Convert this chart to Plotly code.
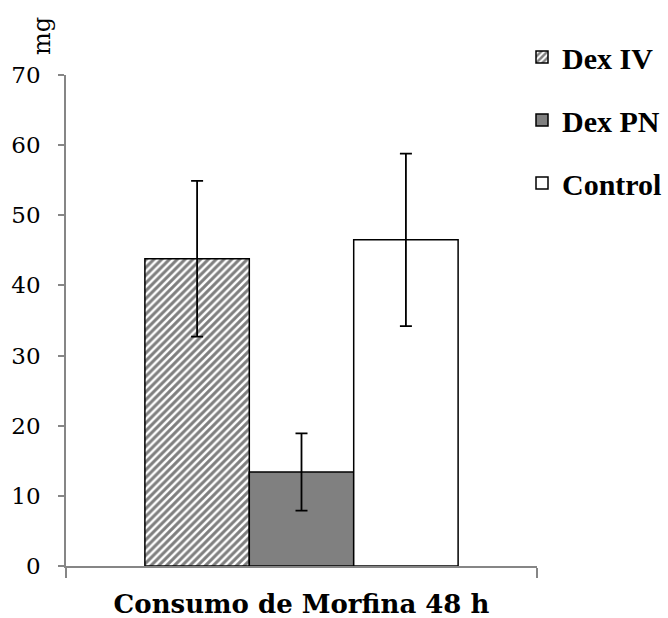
import plotly.graph_objects as go

# Morphine consumption over 48 h, mean ± error (mg)
category = ["Consumo de Morfina 48 h"]
groups = ["Dex IV", "Dex PN", "Control"]
means = [43.8, 13.4, 46.5]
errors = [11.1, 5.5, 12.3]

fills = ["white", "#808080", "white"]
patterns = [dict(shape="/", fgcolor="black", bgcolor="white", size=5.5, solidity=0.55),
            dict(shape=""), dict(shape="")]

fig = go.Figure()
for name, m, e, fc, pat in zip(groups, means, errors, fills, patterns):
    fig.add_trace(go.Bar(
        x=category, y=[m], name=name, legendgroup=name,
        marker=dict(color=fc, line=dict(color="black", width=1.5), pattern=pat),
        error_y=dict(type="data", array=[e], color="black", thickness=1.8, width=6),
    ))

serif = "DejaVu Serif"
fig.update_layout(
    width=668, height=618,
    margin=dict(l=66, r=131, t=75, b=52, autoexpand=False),
    paper_bgcolor="white", plot_bgcolor="white",
    barmode="group", bargap=0.335, bargroupgap=0,
    font=dict(family=serif, color="black"),
    legend=dict(xref="container", yref="container",
                x=522 / 668, xanchor="left", y=1 - 31 / 618, yanchor="top",
                font=dict(family="Liberation Serif", size=30, weight="bold"),
                traceorder="grouped", tracegroupgap=21,
                itemwidth=30, bgcolor="rgba(0,0,0,0)"),
    xaxis=dict(showline=True, linecolor="#868686", linewidth=1.5, automargin=False,
               ticks="outside", tickson="boundaries", ticklen=10,
               tickcolor="#868686", tickwidth=1.5, ticklabelstandoff=14,
               tickfont=dict(family=serif, size=26, weight="bold")),
    yaxis=dict(range=[0, 70], tickvals=[0, 10, 20, 30, 40, 50, 60, 70],
               showline=True, linecolor="#868686", linewidth=1.5, automargin=False,
               ticks="outside", ticklen=6, tickcolor="#868686", tickwidth=1.5,
               showgrid=False, zeroline=False, ticklabelstandoff=13,
               tickfont=dict(family=serif, size=23)),
    annotations=[dict(text="mg", textangle=-90,
                      x=(42 - 66) / 471, y=(618 - 52 - 36) / 491,
                      xref="paper", yref="paper", xanchor="center", yanchor="middle",
                      showarrow=False, font=dict(family=serif, size=24))],
)

fig.write_html("out.html")
